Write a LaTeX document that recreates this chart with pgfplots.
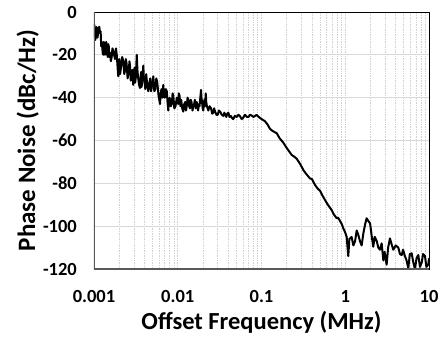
\documentclass[border=0pt]{standalone}
\usepackage{fontspec}
\setmainfont{Carlito}
\usepackage{pgfplots}
\pgfplotsset{compat=1.18}
\begin{document}
\begin{tikzpicture}
\begin{axis}[
  name=ax,
  scale only axis,
  width=335pt, height=257pt,
  xmode=log,
  xmin=0.001, xmax=10,
  ymin=-120, ymax=0,
  xtick={0.001,0.01,0.1,1,10},
  xticklabels={0.001,0.01,0.1,1,10},
  ytick={-120,-100,-80,-60,-40,-20,0},
  /pgf/number format/assume math mode=true,
  tick style={draw=none},
  major tick length=0pt, minor tick length=0pt,
  ticklabel style={font=\fontsize{18.5}{20}\selectfont\bfseries, inner sep=0pt},
  xticklabel style={anchor=base, yshift=-33pt},
  yticklabel style={anchor=east, xshift=-17pt},
  ymajorgrids,
  xmajorgrids, xminorgrids,
  major grid style={draw=black!15, line width=0.8pt},
  x grid style={draw=black!18, line width=0.7pt, densely dotted},
  minor grid style={draw=black!18, line width=0.7pt, densely dotted},
  axis line style={draw=black, line width=0.9pt},
  xlabel={Offset Frequency (MHz)},
  ylabel={Phase Noise (dBc/Hz)},
  xlabel style={font=\fontsize{24.5}{26}\selectfont\bfseries, inner sep=0pt, at={([yshift=-60pt]axis description cs:0.5,0)}, anchor=base},
  ylabel style={font=\fontsize{25}{27}\selectfont\bfseries, inner sep=0pt, at={([xshift=-55pt]axis description cs:0,0.5)}, anchor=south, rotate=0},
]
\addplot[black, line width=2pt, line join=round] coordinates {
(0.00100,-12) (0.00101,-6) (0.00102,-8.4) (0.00104,-13) (0.00105,-10) (0.00107,-7) (0.00108,-7.5) (0.00110,-12) (0.00111,-11)
(0.00113,-8) (0.001157,-6.9) (0.00118,-10) (0.00120,-9) (0.00122,-16) (0.00124,-14) (0.00127,-19) (0.00129,-20) (0.00131,-14) (0.00133,-15)
(0.00135,-20) (0.00137,-18) (0.00140,-14) (0.001418,-17) (0.00144,-20) (0.00146,-21) (0.00148,-15) (0.00150,-16) (0.00152,-21) (0.00155,-19)
(0.00159,-23) (0.001627,-21) (0.00166,-17) (0.00170,-18) (0.00178,-22) (0.001832,-17) (0.00187,-20) (0.00190,-24) (0.00193,-28) (0.00195,-30)
(0.00198,-25) (0.00201,-22) (0.00205,-29) (0.00210,-26) (0.00217,-21) (0.00224,-23) (0.00230,-29) (0.00235,-27) (0.00240,-22) (0.00245,-24)
(0.00252,-31) (0.00260,-28) (0.00265,-23) (0.00269,-25) (0.00275,-32) (0.00280,-30) (0.00287,-27) (0.00294,-34) (0.00300,-30) (0.00305,-26)
(0.00310,-33) (0.00315,-31) (0.00320,-25) (0.00324,-20) (0.00330,-27) (0.00335,-30) (0.00345,-34) (0.00354,-35.5) (0.00360,-30) (0.00365,-28)
(0.00370,-35) (0.00375,-33) (0.00382,-29) (0.00388,-25) (0.00394,-31) (0.00400,-32) (0.00410,-36) (0.00420,-29) (0.00432,-34) (0.00445,-37)
(0.00458,-33) (0.00470,-31) (0.00480,-37) (0.00490,-35) (0.00500,-33) (0.00511,-30) (0.00525,-37) (0.00540,-36) (0.00555,-31) (0.00570,-33)
(0.00590,-39) (0.00614,-43) (0.00625,-38) (0.00640,-36) (0.00655,-40) (0.00672,-34) (0.00685,-39) (0.00700,-40) (0.00720,-36) (0.00740,-37)
(0.00755,-42) (0.00771,-46) (0.00785,-41) (0.00800,-40) (0.00825,-44) (0.00850,-43) (0.00868,-38) (0.00885,-39) (0.00910,-45) (0.00940,-44)
(0.00975,-40) (0.01015,-43) (0.01030,-38) (0.01050,-39) (0.01075,-44) (0.01100,-41) (0.01130,-45) (0.01164,-46.5) (0.01195,-43) (0.01230,-42)
(0.01255,-46) (0.01280,-44) (0.01310,-40) (0.01337,-41) (0.01370,-44) (0.01400,-45) (0.01430,-41) (0.01460,-42) (0.01500,-46) (0.01535,-44)
(0.01570,-43) (0.01600,-41) (0.01640,-45) (0.01683,-42) (0.01720,-44) (0.01750,-46) (0.01790,-43) (0.01820,-44) (0.01860,-40) (0.01897,-36.4)
(0.01920,-40) (0.01950,-42) (0.01985,-45) (0.02018,-46) (0.02050,-43) (0.02080,-41) (0.02120,-44) (0.02158,-38) (0.02190,-42) (0.02230,-44)
(0.02317,-46) (0.02400,-44) (0.02500,-45) (0.02580,-47.5) (0.02650,-47) (0.02720,-45) (0.02786,-46.5) (0.0290,-48) (0.0300,-48)
(0.0310,-46) (0.0320,-46.5) (0.0335,-48) (0.0350,-48.5) (0.0360,-47) (0.0380,-49) (0.0390,-47.5) (0.0402,-47)
(0.0415,-49) (0.0430,-48.5) (0.0445,-49.5) (0.0460,-50) (0.0480,-48.5) (0.0506,-49) (0.0530,-48) (0.0550,-48.5) (0.0580,-50) (0.0600,-49.5)
(0.0635,-48) (0.0670,-49) (0.0700,-49) (0.0730,-48) (0.0760,-48.3) (0.0800,-49) (0.0836,-48.6) (0.0870,-48) (0.0916,-48.8) (0.0960,-49.5)
(0.1004,-50) (0.110,-51) (0.118,-52.5) (0.126,-54.5) (0.135,-55.5)
(0.152,-56.6) (0.165,-59) (0.182,-61) (0.200,-63.5) (0.230,-66.8)
(0.245,-67.5) (0.263,-68.5) (0.290,-71) (0.316,-73.8) (0.340,-75.5)
(0.379,-77.7) (0.400,-78) (0.436,-80.8) (0.470,-82.5) (0.500,-83.5)
(0.540,-86) (0.573,-87.8) (0.620,-90) (0.689,-92.5) (0.730,-94.5)
(0.791,-96.3) (0.820,-96) (0.865,-97.5) (0.908,-99) (0.948,-101)
(1.00,-103) (1.04,-105) (1.087,-114) (1.12,-106) (1.19,-105)
(1.25,-109) (1.31,-107) (1.37,-102) (1.43,-104) (1.50,-107)
(1.57,-109) (1.65,-103) (1.73,-99) (1.80,-96.3) (1.88,-97.5)
(1.98,-98.7) (2.06,-104) (2.16,-109.6) (2.25,-105) (2.38,-107)
(2.48,-110) (2.60,-111) (2.72,-108) (2.85,-116) (2.95,-112)
(3.12,-118) (3.25,-110) (3.42,-105.7) (3.55,-108) (3.75,-111)
(4.00,-109) (4.30,-110) (4.50,-113) (4.72,-113.5) (4.90,-111)
(5.16,-114) (5.40,-116) (5.66,-119.7) (5.90,-113) (6.21,-112.7)
(6.50,-117) (6.80,-120) (7.10,-115) (7.45,-113.5) (7.80,-119)
(8.18,-117) (8.50,-113) (8.96,-114) (9.30,-119) (9.80,-118) (10.0,-115)
};
\draw[draw=black!65, line width=2pt] (rel axis cs:0,1) -- (rel axis cs:0,0) -- (rel axis cs:1,0);
\end{axis}
\pgfresetboundingbox
\path[use as bounding box] ([shift={(-94pt,-69pt)}]ax.south west) rectangle ++(443pt,338pt);
\end{tikzpicture}
\end{document}
